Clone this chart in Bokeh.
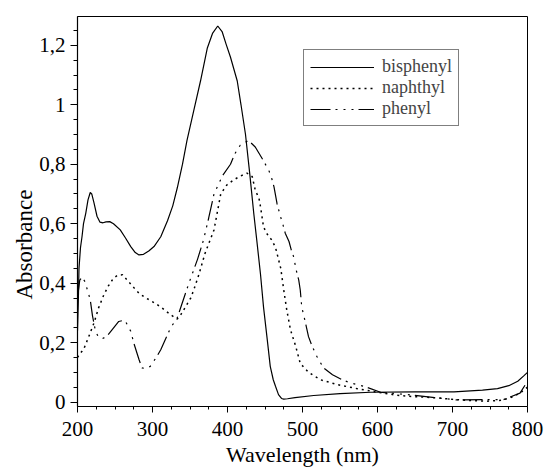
from bokeh.plotting import figure
from bokeh.models import Range1d, FixedTicker, Legend, LegendItem, Title
from bokeh.embed import file_html
from bokeh.resources import INLINE

# ---------------- data ----------------
wl_bis = [200, 201, 202, 204, 206, 208, 211, 214, 217, 219, 222, 226, 230, 234, 238, 243,
          248, 257, 264, 271, 277, 282, 288, 295, 302, 311, 320, 327, 333, 340, 346,
          355, 364, 373, 380, 387, 393, 398, 404, 413, 418, 424, 430, 435, 439, 444, 448,
          453, 457, 461, 464, 468, 472, 475, 480, 490, 515, 550, 591, 650, 702, 740, 760,
          775, 787, 795, 800]
abs_bis = [0.24, 0.33, 0.45, 0.52, 0.556, 0.60, 0.635, 0.68, 0.705, 0.70, 0.67, 0.625, 0.605,
           0.603, 0.606, 0.607, 0.600, 0.579, 0.552, 0.523, 0.503, 0.495, 0.497, 0.508, 0.523,
           0.556, 0.61, 0.66, 0.72, 0.80, 0.88, 0.98, 1.08, 1.19, 1.24, 1.265, 1.245,
           1.205, 1.16, 1.08, 1.0, 0.90, 0.76, 0.635, 0.545, 0.43, 0.32, 0.21, 0.12, 0.075,
           0.053, 0.025, 0.012, 0.010, 0.011, 0.015, 0.022, 0.028, 0.033, 0.034, 0.034, 0.04,
           0.045, 0.055, 0.07, 0.088, 0.10]

wl_nap = [200, 204, 208, 215, 222, 228, 235, 241, 248, 254, 260, 268, 275, 282, 290, 297,
          305, 313, 324, 333, 338, 344, 351, 355, 362, 370, 382, 391, 399, 408, 417, 426,
          433, 437, 442, 444, 448, 452, 459, 464, 466, 471, 475, 479, 484, 491, 497, 508,
          524, 546, 573, 600, 626, 650, 680, 700, 724, 746, 765, 777, 790, 800]
abs_nap = [0.15, 0.165, 0.176, 0.22, 0.266, 0.316, 0.36, 0.39, 0.417, 0.427, 0.428, 0.405,
           0.385, 0.366, 0.352, 0.342, 0.33, 0.316, 0.294, 0.279, 0.295, 0.32, 0.35, 0.377,
           0.43, 0.50, 0.579, 0.70, 0.73, 0.747, 0.76, 0.77, 0.758, 0.713, 0.685, 0.657, 0.59,
           0.568, 0.545, 0.52, 0.50, 0.45, 0.377, 0.31, 0.243, 0.187, 0.13, 0.10, 0.075,
           0.059, 0.045, 0.033, 0.023, 0.018, 0.014, 0.009, 0.005, 0.003, 0.006, 0.014, 0.03,
           0.05]

wl_phe = [200, 203, 206, 210, 214, 217, 220, 224, 228, 233, 239, 246, 255, 260, 264, 271,
          275, 282, 286, 291, 297, 306, 311, 324, 333, 344, 350, 360, 368, 375, 382, 393,
          404, 410, 417, 428, 437, 446, 455, 459, 462, 464, 466, 470, 474, 477, 482, 485,
          488, 492, 495, 497, 499, 503, 508, 513, 519, 528, 540, 553, 564, 582, 604, 648,
          680, 706, 746, 768, 790, 800]
abs_phe = [0.35, 0.41, 0.42, 0.405, 0.37, 0.344, 0.29, 0.238, 0.218, 0.213, 0.221, 0.243,
           0.271, 0.274, 0.271, 0.238, 0.199, 0.143, 0.115, 0.112, 0.12, 0.154, 0.176, 0.249,
           0.283, 0.366, 0.41, 0.48, 0.545, 0.62, 0.70, 0.76, 0.80, 0.836, 0.864, 0.88, 0.858,
           0.82, 0.78, 0.752, 0.724, 0.696, 0.668, 0.63, 0.596, 0.568, 0.54, 0.512, 0.49, 0.44,
           0.41, 0.377, 0.32, 0.277, 0.22, 0.187, 0.154, 0.115, 0.092, 0.075, 0.064, 0.053,
           0.033, 0.023, 0.014, 0.007, 0.008, 0.008, 0.03, 0.07]

series_names = ["bisphenyl", "naphthyl", "phenyl"]

x_ticks = [200, 300, 400, 500, 600, 700, 800]
x_minor = [225, 250, 275, 325, 350, 375, 425, 450, 475, 525, 550, 575, 625, 650, 675,
           725, 750, 775]
y_ticks = [0, 0.2, 0.4, 0.6, 0.8, 1, 1.2]
y_tick_labels = ["0", "0,2", "0,4", "0,6", "0,8", "1", "1,2"]
y_minor = [0.05, 0.1, 0.15, 0.25, 0.3, 0.35, 0.45, 0.5, 0.55, 0.65, 0.7, 0.75, 0.85, 0.9,
           0.95, 1.05, 1.1, 1.15, 1.25]

x_title = "Wavelength (nm)"
y_title = "Absorbance"

FONT = "Liberation Serif"

# ---------------- figure ----------------
p = figure(width=547, height=469, output_backend="svg", toolbar_location=None,
           x_range=Range1d(200, 800), y_range=Range1d(-0.015, 1.297),
           min_border_left=77, min_border_right=20, min_border_top=16, min_border_bottom=62)
p.background_fill_color = "white"
p.border_fill_color = "white"
p.outline_line_color = "black"
p.outline_line_width = 1
p.xgrid.visible = False
p.ygrid.visible = False

r1 = p.line(wl_bis, abs_bis, line_color="black", line_width=1.2)
r2 = p.line(wl_nap, abs_nap, line_color="black", line_width=1.5, line_dash="2 4")
r3 = p.line(wl_phe, abs_phe, line_color="black", line_width=1.2,
            line_dash="20 5 2 6 2 6 2 5")

# axes
p.xaxis.ticker = FixedTicker(ticks=x_ticks, minor_ticks=x_minor)
p.yaxis.ticker = FixedTicker(ticks=y_ticks, minor_ticks=y_minor)
p.yaxis.major_label_overrides = dict(zip(y_ticks, y_tick_labels))
for ax in (p.xaxis[0], p.yaxis[0]):
    ax.axis_line_color = "black"
    ax.axis_line_width = 1.2
    ax.major_tick_line_color = "black"
    ax.minor_tick_line_color = "black"
    ax.major_tick_in = 0
    ax.minor_tick_in = 0
    ax.major_label_text_font = FONT
    ax.major_label_text_font_size = "21px"
    ax.major_label_text_color = "black"
p.xaxis.major_tick_out = 6
p.xaxis.minor_tick_out = 3
p.xaxis.major_label_standoff = 9
p.yaxis.major_tick_out = 7
p.yaxis.minor_tick_out = 4
p.yaxis.major_label_standoff = 5

p.xaxis.axis_label = x_title
p.xaxis.axis_label_text_font = FONT
p.xaxis.axis_label_text_font_size = "22px"
p.xaxis.axis_label_text_font_style = "normal"
p.xaxis.axis_label_text_color = "black"
p.xaxis.axis_label_standoff = 3

# y title as a side title, shifted down like the reference
p.add_layout(Title(text=y_title, align="left", offset=107, standoff=0,
                   text_font=FONT, text_font_size="23px", text_font_style="normal",
                   text_color="black"), "left")

legend = Legend(items=[LegendItem(label=series_names[0], renderers=[r1]),
                       LegendItem(label=series_names[1], renderers=[r2]),
                       LegendItem(label=series_names[2], renderers=[r3])],
                location=(226, 280), margin=0, padding=6, spacing=0,
                glyph_width=64, glyph_height=20, label_height=20, label_standoff=8,
                label_text_font=FONT, label_text_font_size="18px",
                border_line_color="black", border_line_width=1,
                background_fill_color="white", background_fill_alpha=1)
p.add_layout(legend)

open("out.html", "w").write(file_html(p, INLINE))
